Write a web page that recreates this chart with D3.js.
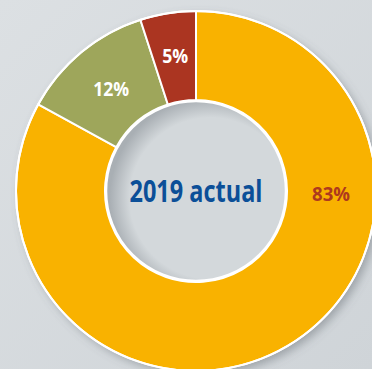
<!DOCTYPE html>
<html>
<head>
<meta charset="utf-8">
<script src="https://cdn.jsdelivr.net/npm/d3@7"></script>
<style>
  html, body { margin: 0; padding: 0; background: #d6dbde; }
  svg { display: block; }
</style>
</head>
<body>
<svg></svg>
<script>
// data
const categories = ['A', 'B', 'C'];
const values = [83, 12, 5];
const labels = ['83%', '12%', '5%'];
const colors = ['#f9b200', '#9ea65b', '#ab3521'];
const centerTitle = '2019 actual';

const width = 372, height = 369;
const cx = 196, cy = 191;
const outerR = 180, innerR = 91;

const svg = d3.select('svg')
    .attr('width', width)
    .attr('height', height);

const defs = svg.append('defs');

// fond gris dégradé
const bg = defs.append('linearGradient')
    .attr('id', 'bg')
    .attr('x1', 0).attr('y1', 0).attr('x2', 1).attr('y2', 1);
bg.append('stop').attr('offset', '0%').attr('stop-color', '#dce0e3');
bg.append('stop').attr('offset', '100%').attr('stop-color', '#cfd4d8');

const shadow = defs.append('filter')
    .attr('id', 'shadow')
    .attr('x', '-20%').attr('y', '-20%')
    .attr('width', '140%').attr('height', '140%');
shadow.append('feDropShadow')
    .attr('dx', 4).attr('dy', 4)
    .attr('stdDeviation', 5)
    .attr('flood-color', '#5a6068')
    .attr('flood-opacity', 0.45);

// ombre intérieure du trou
const inner = defs.append('radialGradient')
    .attr('id', 'hole')
    .attr('cx', '58%').attr('cy', '54%').attr('r', '56%');
inner.append('stop').attr('offset', '80%').attr('stop-color', '#d3d8db');
inner.append('stop').attr('offset', '100%').attr('stop-color', '#a9afb4');

svg.append('rect')
    .attr('width', width)
    .attr('height', height)
    .attr('fill', 'url(#bg)');

const g = svg.append('g')
    .attr('transform', `translate(${cx},${cy})`);

const pie = d3.pie()
    .sort(null)
    .value(d => d)
    .startAngle(0)
    .endAngle(2 * Math.PI);

const arcs = pie(values);

const arc = d3.arc()
    .innerRadius(innerR)
    .outerRadius(outerR);

// ombre portée du cercle
g.append('circle')
    .attr('r', outerR)
    .attr('fill', '#f9b200')
    .attr('filter', 'url(#shadow)');

g.selectAll('path.slice')
    .data(arcs)
    .enter().append('path')
    .attr('class', 'slice')
    .attr('d', arc)
    .attr('fill', (d, i) => colors[i])
    .attr('stroke', 'white')
    .attr('stroke-width', 2)
    .attr('stroke-linejoin', 'round');

// contour blanc extérieur
g.append('circle')
    .attr('r', outerR)
    .attr('fill', 'none')
    .attr('stroke', 'white')
    .attr('stroke-width', 2);

// trou central
g.append('circle')
    .attr('r', innerR - 1)
    .attr('fill', 'url(#hole)')
    .attr('stroke', 'white')
    .attr('stroke-width', 2.5);

// étiquettes
const labelR = 133;
const labelSpecs = [
    { fill: '#ae3a1e', w: 38, angle: Math.PI / 2, r: 135, dy: 10 },
    { fill: 'white', w: 36, dy: 7 },
    { fill: 'white', w: 26, dy: 3 }
];

arcs.forEach((d, i) => {
    const spec = labelSpecs[i];
    const a = spec.angle !== undefined ? spec.angle : (d.startAngle + d.endAngle) / 2;
    const r = spec.r || labelR;
    g.append('text')
        .attr('x', r * Math.sin(a))
        .attr('y', -r * Math.cos(a) + spec.dy)
        .attr('text-anchor', 'middle')
        .attr('fill', spec.fill)
        .attr('font-family', 'Open Sans, Liberation Sans, sans-serif')
        .attr('font-weight', 'bold')
        .attr('font-size', 20)
        .attr('textLength', spec.w)
        .attr('lengthAdjust', 'spacingAndGlyphs')
        .text(labels[i]);
});

g.append('text')
    .attr('x', 0)
    .attr('y', 11)
    .attr('text-anchor', 'middle')
    .attr('fill', '#0b4f98')
    .attr('font-family', 'Open Sans, Liberation Sans, sans-serif')
    .attr('font-weight', 'bold')
    .attr('font-size', 31)
    .attr('textLength', 133)
    .attr('lengthAdjust', 'spacingAndGlyphs')
    .text(centerTitle);
</script>
</body>
</html>
